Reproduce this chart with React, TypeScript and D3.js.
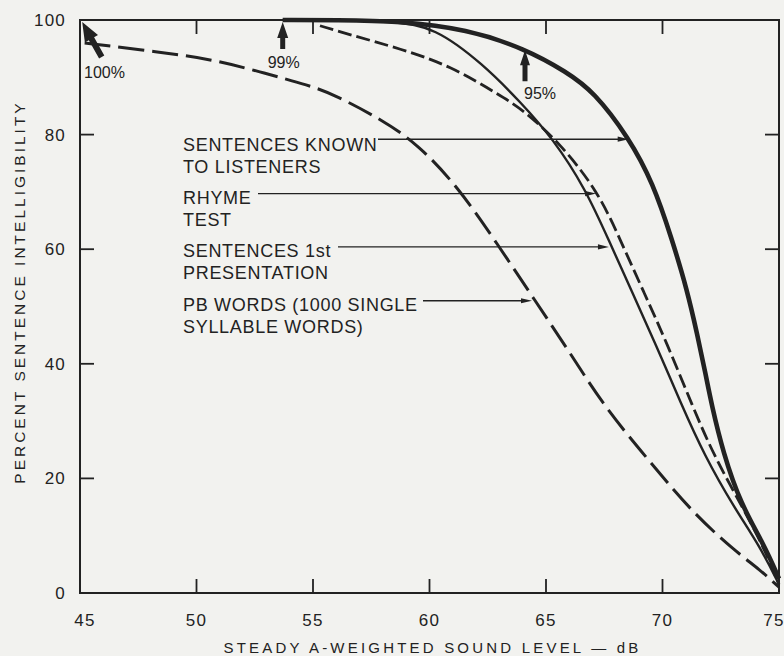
import React from "react";
import * as d3 from "d3";

const W = 784;
const H = 656;

// axis ticks
const xTicks = [45, 50, 55, 60, 65, 70, 75];
const yTicks = [0, 20, 40, 60, 80, 100];
const innerTicksX = [50, 55, 60, 65, 70];
const innerTicksY = [20, 40, 60, 80];

// Sentences known to listeners (thick solid)
const knownDb = [53.7, 56, 58.75, 61.6, 64.1, 65.9, 67.05, 68.55, 69.6, 70.4, 71.05, 71.5, 71.86, 72.1, 72.6, 73.36, 74.35, 75];
const knownPct = [100, 100, 99.8, 98.4, 95, 90.9, 87.5, 79.5, 71.5, 61.8, 53, 45, 38, 33, 24.5, 15.5, 8.5, 2.5];

// Rhyme test (dashed)
const rhymeDb = [55.3, 56.6, 58.75, 60.9, 63, 64, 65.6, 67.25, 68.2, 69.2, 70.2, 71.3, 72.2, 73.5, 74.4, 75];
const rhymePct = [99, 97.4, 95, 92, 86.9, 84.4, 78.5, 70, 61.5, 52.5, 43.5, 32.5, 24, 14.5, 7.5, 1.5];

// Sentences 1st presentation (thin solid)
const firstDb = [53.7, 56, 58.5, 60.2, 62.3, 63.9, 65.3, 66.7, 67.7, 68.7, 69.7, 70.8, 71.8, 73.06, 74.2, 75];
const firstPct = [100, 100, 99.7, 98.8, 92.3, 85.7, 79.3, 70.5, 61.5, 52.5, 43.5, 33, 24, 15, 8, 1.5];

// PB words (long dash)
const pbDb = [45.2, 48.4, 50.6, 52.7, 54.9, 55.9, 58, 59.5, 61.2, 62.9, 64.5, 66.1, 67.5, 69.5, 71.3, 73.06, 74.2, 75];
const pbPct = [96, 94.4, 93.2, 91, 88.5, 87, 82.5, 78.3, 71, 61, 51.2, 41.5, 32.5, 22.7, 14, 7.5, 4, 1];

// label texts
const labelLines = [
  ["SENTENCES KNOWN", "TO LISTENERS"],
  ["RHYME", "TEST"],
  ["SENTENCES 1st", "PRESENTATION"],
  ["PB WORDS (1000 SINGLE", "SYLLABLE WORDS)"],
];
const leaderPct = [79.2, 69.7, 60.4, 51.0];
const leaderTipDb = [68.55, 67.15, 67.7, 64.4];

// percent markers
const markerText = ["100%", "99%", "95%"];
const markerDb = [45.05, 53.7, 64.1];
const markerPct = [99.8, 99.8, 94.9];

const INK = "#222";
const FONT = "'Liberation Sans', Arial, Helvetica, sans-serif";

function blockArrow(tx: number, ty: number, ang: number, total: number, headLen: number, headW: number, shaftW: number) {
  const ux = Math.cos(ang), uy = Math.sin(ang);
  const px = -uy, py = ux;
  const bx = tx - ux * headLen, by = ty - uy * headLen;
  const ex = tx - ux * total, ey = ty - uy * total;
  const pts = [
    [tx, ty],
    [bx + px * headW / 2, by + py * headW / 2],
    [bx + px * shaftW / 2, by + py * shaftW / 2],
    [ex + px * shaftW / 2, ey + py * shaftW / 2],
    [ex - px * shaftW / 2, ey - py * shaftW / 2],
    [bx - px * shaftW / 2, by - py * shaftW / 2],
    [bx - px * headW / 2, by - py * headW / 2],
  ];
  return "M" + pts.map((p) => p[0].toFixed(1) + "," + p[1].toFixed(1)).join("L") + "Z";
}

export default function App() {
  const x = d3.scaleLinear().domain([45, 75]).range([80, 779]);
  const y = d3.scaleLinear().domain([0, 100]).range([593, 20]);
  const line = d3
    .line<[number, number]>()
    .x((d) => x(d[0]))
    .y((d) => y(d[1]))
    .curve(d3.curveBasis);
  const zip = (a: number[], b: number[]) => a.map((v, i) => [v, b[i]] as [number, number]);

  const series = [
    { d: zip(pbDb, pbPct), w: 3, dash: "26,8" },
    { d: zip(firstDb, firstPct), w: 2.4, dash: "" },
    { d: zip(rhymeDb, rhymePct), w: 2.8, dash: "14,5" },
    { d: zip(knownDb, knownPct), w: 4.6, dash: "" },
  ];

  const labelX = 183;
  const labelBase = [151, 204, 257, 311];
  const leaderStart = [378, 258, 338, 423];

  // marker arrows geometry
  const m100 = blockArrow(x(markerDb[0]) + 1, y(markerPct[0]) + 1, Math.atan2(-34, -19), 40, 19, 15, 6);
  const m99 = blockArrow(x(markerDb[1]), y(markerPct[1]) + 1, -Math.PI / 2, 27, 16, 11, 5);
  const m95 = blockArrow(x(markerDb[2]), y(markerPct[2]) + 1, -Math.PI / 2, 31, 15, 10, 5);

  const x0 = x(45), x1 = x(75), y0 = y(0), y1 = y(100);
  const tl = 14;

  return (
    <svg
      width={W}
      height={H}
      viewBox={`0 0 ${W} ${H}`}
      style={{ position: "absolute", left: 0, top: 0, background: "#f2f2ef" }}
    >
      <rect x={0} y={0} width={W} height={H} fill="#f2f2ef" />
      {/* frame */}
      <rect x={x0} y={y1} width={x1 - x0} height={y0 - y1} fill="none" stroke={INK} strokeWidth={2} />
      {/* inward ticks */}
      {innerTicksX.map((t) => (
        <g key={"tx" + t} stroke={INK} strokeWidth={1.8}>
          <line x1={x(t)} x2={x(t)} y1={y0} y2={y0 - tl} />
          <line x1={x(t)} x2={x(t)} y1={y1} y2={y1 + tl} />
        </g>
      ))}
      {innerTicksY.map((t) => (
        <g key={"ty" + t} stroke={INK} strokeWidth={1.8}>
          <line x1={x0} x2={x0 + tl} y1={y(t)} y2={y(t)} />
          <line x1={x1} x2={x1 - tl} y1={y(t)} y2={y(t)} />
        </g>
      ))}
      {/* tick labels */}
      {xTicks.map((t, i) => (
        <text
          key={"xl" + t}
          x={x(t) + (i === 0 ? 5 : i === xTicks.length - 1 ? -5 : 0)}
          y={626}
          textAnchor="middle"
          fontFamily={FONT}
          fontSize={17}
          letterSpacing={1.2}
          fill={INK}
        >
          {t}
        </text>
      ))}
      {yTicks.map((t) => (
        <text
          key={"yl" + t}
          x={66}
          y={y(t) + 6}
          textAnchor="end"
          fontFamily={FONT}
          fontSize={17}
          letterSpacing={1.2}
          fill={INK}
        >
          {t}
        </text>
      ))}
      {/* axis titles */}
      <text
        x={(x0 + x1) / 2 + 3}
        y={653}
        textAnchor="middle"
        fontFamily={FONT}
        fontSize={15}
        letterSpacing={3.2}
        fill={INK}
      >
        STEADY A-WEIGHTED SOUND LEVEL — dB
      </text>
      <text
        transform={`translate(25,${292}) rotate(-90)`}
        textAnchor="middle"
        fontFamily={FONT}
        fontSize={15.5}
        letterSpacing={3}
        fill={INK}
      >
        PERCENT SENTENCE INTELLIGIBILITY
      </text>
      {/* curves */}
      {series.map((s, i) => (
        <path
          key={"s" + i}
          d={line(s.d) || ""}
          fill="none"
          stroke={INK}
          strokeWidth={s.w}
          strokeDasharray={s.dash || undefined}
          strokeLinejoin="round"
        />
      ))}
      {/* labels with leaders */}
      {labelLines.map((ls, i) => {
        const yy = y(leaderPct[i]);
        const tip = x(leaderTipDb[i]);
        return (
          <g key={"lab" + i}>
            {ls.map((t, j) => (
              <text
                key={j}
                x={labelX}
                y={labelBase[i] + j * 21.5}
                fontFamily={FONT}
                fontSize={18}
                letterSpacing={0.7}
                fill={INK}
              >
                {t}
              </text>
            ))}
            <line x1={leaderStart[i]} x2={tip - 8} y1={yy} y2={yy} stroke={INK} strokeWidth={1.4} />
            <path d={`M${tip},${yy}L${tip - 11},${yy - 2.6}L${tip - 11},${yy + 2.6}Z`} fill={INK} />
          </g>
        );
      })}
      {/* percent markers */}
      <path d={m100} fill={INK} />
      <path d={m99} fill={INK} />
      <path d={m95} fill={INK} />
      <text x={84} y={78} fontFamily={FONT} fontSize={16} fill={INK}>
        {markerText[0]}
      </text>
      <text x={x(markerDb[1]) + 1} y={68} textAnchor="middle" fontFamily={FONT} fontSize={16} fill={INK}>
        {markerText[1]}
      </text>
      <text x={x(markerDb[2]) + 15} y={99} textAnchor="middle" fontFamily={FONT} fontSize={16} fill={INK}>
        {markerText[2]}
      </text>
    </svg>
  );
}
